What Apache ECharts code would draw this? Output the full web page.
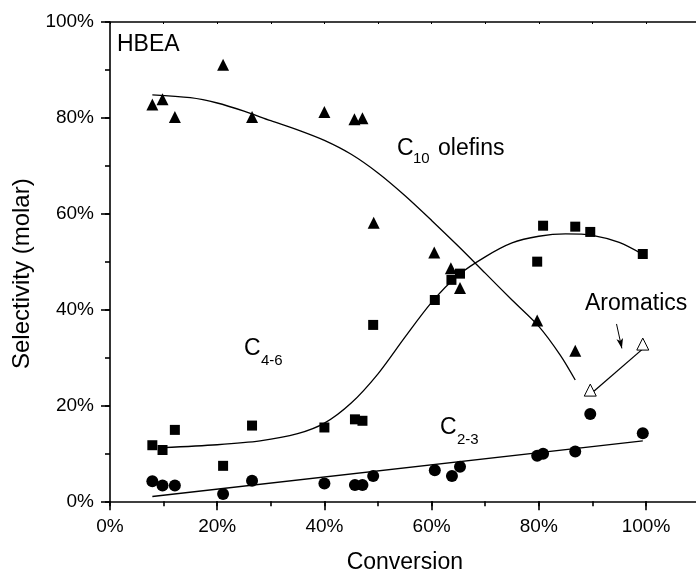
<!DOCTYPE html>
<html><head><meta charset="utf-8">
<script src="https://cdn.jsdelivr.net/npm/echarts@6/dist/echarts.min.js"></script>
<style>html,body{margin:0;padding:0;background:#fff}#c{width:696px;height:574px}</style>
</head><body><div id="c"></div>
<script>
// ---- data ----
const olefinsX = [7.9, 9.8, 12.1, 21.1, 26.5, 40.0, 45.6, 47.1, 49.2, 60.5, 63.6, 65.3, 79.7, 86.8];
const olefinsY = [82.8, 83.9, 80.2, 91.1, 80.2, 81.2, 79.7, 79.9, 58.1, 51.9, 48.6, 44.5, 37.7, 31.4];
const c46X = [7.9, 9.8, 12.1, 21.1, 26.5, 40.0, 45.7, 47.1, 49.1, 60.6, 63.7, 65.3, 79.7, 80.8, 86.8, 89.6, 99.4];
const c46Y = [11.7, 10.7, 14.9, 7.4, 15.8, 15.4, 17.1, 16.8, 36.8, 42.0, 46.2, 47.5, 50.0, 57.5, 57.3, 56.2, 51.6];
const c23X = [7.9, 9.8, 12.1, 21.1, 26.5, 40.0, 45.7, 47.1, 49.1, 60.6, 63.8, 65.3, 79.7, 80.8, 86.8, 89.6, 99.4];
const c23Y = [4.2, 3.3, 3.3, 1.5, 4.3, 3.7, 3.4, 3.4, 5.3, 6.5, 5.3, 7.2, 9.5, 9.9, 10.4, 18.2, 14.2];
const aromX = [89.6, 99.4];
const aromY = [23.2, 32.8];
// fitted curves
const olefinsFitX = [7.9, 15, 20, 25, 30, 35, 40, 45, 50, 55, 60, 65, 70, 75, 80, 84, 86.8];
const olefinsFitY = [84.8, 84.2, 83.1, 81.4, 79.4, 77.5, 75.3, 72.4, 68.5, 63.8, 58.6, 53.2, 47.6, 42.0, 36.5, 30.5, 25.3];
const c46FitX = [9.8, 20, 28, 35, 40, 45, 50, 55, 60, 65, 70, 75, 80, 85, 90, 95, 99.4];
const c46FitY = [11.2, 11.8, 12.6, 14.1, 16.3, 20.5, 26.6, 34.2, 41.5, 47.2, 51.0, 53.9, 55.3, 55.8, 55.5, 54.0, 51.5];
const c23FitX = [7.9, 99.4];
const c23FitY = [1.0, 12.6];
const aromFitX = [90.0, 99.4];
const aromFitY = [22.7, 31.8];
const arrowFrom = [94.5, 37.0];
const arrowTo = [95.5, 31.9];
const xTickLabels = ['0%', '20%', '40%', '60%', '80%', '100%'];
const yTickLabels = ['0%', '20%', '40%', '60%', '80%', '100%'];

const zip = (xs, ys) => xs.map((x, i) => [x, ys[i]]);
const FONT = '"Liberation Sans", Arial, Helvetica, sans-serif';
const BLACK = '#000';

const chart = echarts.init(document.getElementById('c'), null, {renderer: 'canvas'});

const baseX = {type: 'value', min: 0, max: 110, splitLine: {show: false}, minorTick: {show: false}, minorSplitLine: {show: false}};
const baseY = {type: 'value', min: 0, max: 100, splitLine: {show: false}, minorTick: {show: false}, minorSplitLine: {show: false}};

const option = {
  animation: false,
  backgroundColor: '#fff',
  grid: {left: 110, top: 22, right: -3.6, bottom: 72.7, containLabel: false, outerBoundsMode: 'none'},
  xAxis: [
    Object.assign({}, baseX, {
      position: 'bottom', interval: 20,
      name: 'Conversion', nameLocation: 'middle', nameGap: 50,
      nameTextStyle: {fontSize: 23, color: BLACK, fontFamily: FONT},
      axisLine: {show: true, onZero: false, lineStyle: {color: BLACK, width: 1.6}},
      axisTick: {show: true, length: 9, lineStyle: {color: BLACK, width: 1.6}},
      axisLabel: {
        margin: 16, fontSize: 19, color: BLACK, fontFamily: FONT,
        formatter: v => { const i = xTickLabels.indexOf(v + '%'); return i >= 0 ? xTickLabels[i] : ''; }
      }
    }),
    Object.assign({}, baseX, {
      position: 'bottom', interval: 10,
      axisLine: {show: false, onZero: false},
      axisTick: {show: true, length: 5, lineStyle: {color: BLACK, width: 1.6}},
      axisLabel: {show: false}
    }),
    Object.assign({}, baseX, {
      position: 'top', interval: 10,
      axisLine: {show: true, onZero: false, lineStyle: {color: BLACK, width: 1.6}},
      axisTick: {show: true, inside: true, length: 2, lineStyle: {color: BLACK, width: 1}},
      axisLabel: {show: false}
    })
  ],
  yAxis: [
    Object.assign({}, baseY, {
      position: 'left', interval: 20,
      name: 'Selectivity (molar)', nameLocation: 'middle', nameGap: 49,
      nameTextStyle: {fontSize: 24, color: BLACK, fontFamily: FONT, padding: [0, 24, 0, 0]},
      axisLine: {show: true, onZero: false, lineStyle: {color: BLACK, width: 1.6}},
      axisTick: {show: true, length: 9, lineStyle: {color: BLACK, width: 1.6}},
      axisLabel: {
        margin: 16, fontSize: 19, color: BLACK, fontFamily: FONT,
        formatter: v => { const i = yTickLabels.indexOf(v + '%'); return i >= 0 ? yTickLabels[i] : ''; }
      }
    }),
    Object.assign({}, baseY, {
      position: 'left', offset: 0, interval: 10,
      axisLine: {show: false, onZero: false},
      axisTick: {show: true, length: 5, lineStyle: {color: BLACK, width: 1.6}},
      axisLabel: {show: false}
    })
  ],
  series: [
    {type: 'line', name: 'C10 fit', data: zip(olefinsFitX, olefinsFitY), smooth: 0.3, showSymbol: false, symbol: 'none',
     lineStyle: {color: BLACK, width: 1.3}, z: 1},
    {type: 'line', name: 'C4-6 fit', data: zip(c46FitX, c46FitY), smooth: 0.3, showSymbol: false, symbol: 'none',
     lineStyle: {color: BLACK, width: 1.3}, z: 1},
    {type: 'line', name: 'C2-3 fit', data: zip(c23FitX, c23FitY), showSymbol: false, symbol: 'none',
     lineStyle: {color: BLACK, width: 1.3}, z: 1},
    {type: 'line', name: 'Aromatics fit', data: zip(aromFitX, aromFitY), showSymbol: false, symbol: 'none',
     lineStyle: {color: BLACK, width: 1.3}, z: 1,
     markLine: {silent: true, symbol: ['none', 'arrow'], symbolSize: [5, 10], label: {show: false},
       lineStyle: {color: BLACK, width: 1, type: 'solid'},
       data: [[{coord: arrowFrom}, {coord: arrowTo}]]}},
    {type: 'scatter', name: 'C10 olefins', data: zip(olefinsX, olefinsY), symbol: 'triangle', symbolSize: 12,
     itemStyle: {color: BLACK, opacity: 1}, z: 3},
    {type: 'scatter', name: 'C4-6', data: zip(c46X, c46Y), symbol: 'rect', symbolSize: 10,
     itemStyle: {color: BLACK, opacity: 1}, z: 3},
    {type: 'scatter', name: 'C2-3', data: zip(c23X, c23Y), symbol: 'circle', symbolSize: 12,
     itemStyle: {color: BLACK, opacity: 1}, z: 3},
    {type: 'scatter', name: 'Aromatics', data: zip(aromX, aromY), symbol: 'triangle', symbolSize: 12,
     itemStyle: {color: '#fff', borderColor: BLACK, borderWidth: 1, opacity: 1}, z: 4}
  ],
  graphic: [
    {type: 'text', left: 117, top: 33, style: {text: 'HBEA', font: '23px ' + FONT, fill: BLACK}},
    {type: 'text', x: 397, y: 149, style: {text: 'C', font: '23px ' + FONT, fill: BLACK, verticalAlign: 'middle'}},
    {type: 'text', x: 413, y: 159, style: {text: '10', font: '15px ' + FONT, fill: BLACK, verticalAlign: 'middle'}},
    {type: 'text', x: 438, y: 149, style: {text: 'olefins', font: '23px ' + FONT, fill: BLACK, verticalAlign: 'middle'}},
    {type: 'text', x: 244, y: 349, style: {text: 'C', font: '23px ' + FONT, fill: BLACK, verticalAlign: 'middle'}},
    {type: 'text', x: 261, y: 361, style: {text: '4-6', font: '15px ' + FONT, fill: BLACK, verticalAlign: 'middle'}},
    {type: 'text', x: 440, y: 428, style: {text: 'C', font: '23px ' + FONT, fill: BLACK, verticalAlign: 'middle'}},
    {type: 'text', x: 457, y: 440, style: {text: '2-3', font: '15px ' + FONT, fill: BLACK, verticalAlign: 'middle'}},
    {type: 'text', x: 585, y: 304, style: {text: 'Aromatics', font: '23px ' + FONT, fill: BLACK, verticalAlign: 'middle'}}
  ]
};
chart.setOption(option);
</script>
</body></html>
